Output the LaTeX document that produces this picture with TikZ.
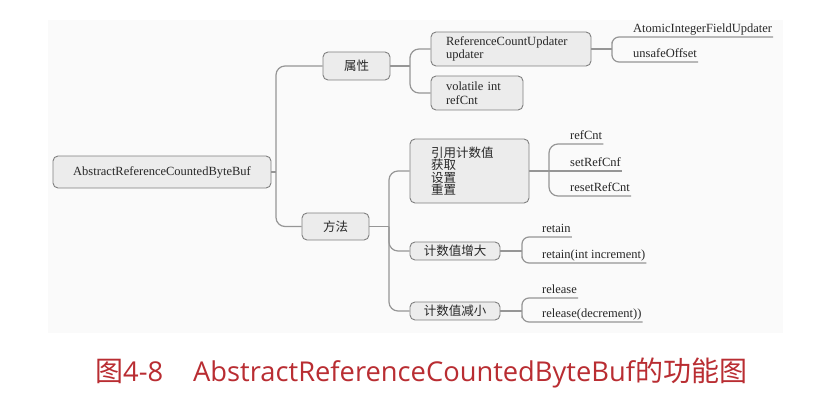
\documentclass[tikz,border=0pt]{standalone}
\usepackage{fontspec}
\setmainfont{Liberation Serif}
\newfontfamily\cjk{Noto Sans CJK SC}
\newfontfamily\caplat{Open Sans}
\definecolor{bgc}{RGB}{250,250,250}
\definecolor{boxfill}{RGB}{236,236,236}
\definecolor{boxline}{RGB}{128,128,128}
\definecolor{connc}{RGB}{150,150,150}
\definecolor{txt}{RGB}{40,40,40}
\definecolor{capred}{RGB}{185,45,50}
\begin{document}
\begin{tikzpicture}[x=1pt,y=-1pt,
  box/.style={draw=boxline, fill=boxfill, line width=0.9pt, rounded corners=5pt,
    inner ysep=0pt, text=txt, font=\fontsize{12.5}{13.5}\selectfont},
  cjkf/.style={font=\cjk\fontsize{12.5}{12.3}\selectfont},
  conn/.style={draw=connc, line width=1.2pt, rounded corners=9pt},
  connsmall/.style={conn, rounded corners=7pt},
  leaf/.style={inner xsep=1pt, inner ysep=4pt, text depth=0pt, anchor=south west,
    text=txt, font=\fontsize{12.5}{13.5}\selectfont}]
\useasboundingbox (0,0) rectangle (839,404);
\fill[white] (0,0) rectangle (839,404);
\fill[bgc] (48,20) rectangle (783,333);

% boxes
\node[box, minimum width=218pt, minimum height=32pt] (root) at (162,172) {AbstractReferenceCountedByteBuf};
\node[box, cjkf, minimum width=67pt, minimum height=28pt] (attr) at (356.5,66) {属性};
\node[box, cjkf, minimum width=67pt, minimum height=27pt] (meth) at (335.5,226.5) {方法};
\node[box, text width=130pt, inner xsep=15pt, minimum height=34pt, align=left] (rcu) at (511,49) {ReferenceCountUpdater\\updater};
\node[box, text width=62pt, inner xsep=15pt, minimum height=34pt, align=left] (vol) at (477,93) {volatile int\\refCnt};
\node[box, cjkf, text width=77pt, inner xsep=21pt, minimum height=64pt, align=left] (ref) at (469.5,171) {引用计数值\\获取\\设置\\重置};
\node[box, cjkf, minimum width=90pt, minimum height=18pt] (inc) at (455,251) {计数值增大};
\node[box, cjkf, minimum width=90pt, minimum height=18pt] (dec) at (455,311) {计数值减小};

% leaves
\node[leaf] (aifu) at (632,37) {AtomicIntegerFieldUpdater};
\node[leaf] (uo) at (632,62) {unsafeOffset};
\node[leaf] (rc) at (569,144) {refCnt};
\node[leaf] (src) at (569,171) {setRefCnf};
\node[leaf] (rrc) at (569,196) {resetRefCnt};
\node[leaf] (ret) at (541,237) {retain};
\node[leaf] (reti) at (541,263) {retain(int increment)};
\node[leaf] (rel) at (541,298) {release};
\node[leaf] (reld) at (541,322) {release(decrement))};

% junctions
\coordinate (t1) at (276,172);
\coordinate (a1) at (410,66);
\coordinate (c1) at (612,49);
\coordinate (c2) at (389,226.5);
\coordinate (c3) at (549,171);
\coordinate (c4) at (522,251);
\coordinate (c5) at (522,311);

% connectors
\draw[conn] (root.east) -- (t1);
\draw[conn] (attr.west) -| (t1) |- (meth.west);
\draw[conn] (attr.east) -- (a1);
\draw[conn] (rcu.west) -| (a1) |- (vol.west);
\draw[conn] (rcu.east) -- (c1);
\draw[connsmall] (aifu.south east) -| (c1) |- (uo.south east);
\draw[conn] (meth.east) -- (c2);
\draw[conn] (ref.west) -| (c2) |- (dec.west);
\draw[conn] (c2) |- (inc.west);
\draw[conn] (ref.east) -- (src.south east);
\draw[conn] (rc.south east) -| (c3) |- (rrc.south east);
\draw[conn] (inc.east) -- (c4);
\draw[connsmall] (ret.south east) -| (c4) |- (reti.south east);
\draw[conn] (dec.east) -- (c5);
\draw[connsmall] (rel.south east) -| (c5) |- (reld.south east);

% caption
\node[anchor=base west, inner sep=0pt, text=capred, font=\fontsize{27.3}{30}\selectfont] (cap) at (95,381)
  {{\cjk\fontsize{28}{30}\selectfont 图}\caplat 4-8\hspace{30pt}AbstractReferenceCountedByteBuf{\cjk\fontsize{28}{30}\selectfont 的功能图}};
\end{tikzpicture}
\end{document}
